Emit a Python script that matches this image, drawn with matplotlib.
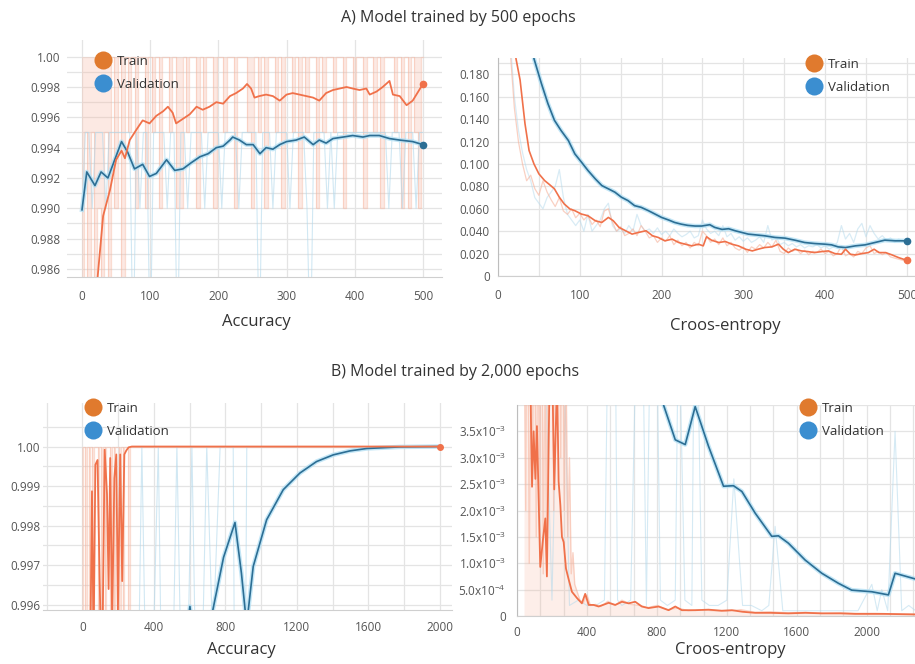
import numpy as np
import matplotlib.pyplot as plt
from matplotlib.lines import Line2D
from matplotlib.ticker import FixedLocator

plt.rcParams['font.family'] = ['Open Sans', 'DejaVu Sans']
plt.rcParams['mathtext.default'] = 'regular'

TRAIN = '#f0714a'
TRAIN_RAW = '#f6b29b'
VAL = '#2c6e94'
VAL_HALO = '#b4e0f4'
VAL_RAW = '#b3d9ec'
DOT_TRAIN = '#e07a2e'
DOT_VAL = '#3b8ed0'
GRID = '#e4e4e4'
TEXT = '#333333'
TICK = '#555555'

# ---- A) 500 epochs, accuracy ----
acc_a_train_ep = [15, 23, 31, 41, 50, 58, 63, 70, 80, 89, 99, 109, 119, 126, 133, 138, 148, 158,
                  168, 177, 187, 197, 207, 217, 226, 236, 242, 248, 253, 260, 270, 280, 290, 300,
                  309, 319, 329, 339, 348, 358, 368, 378, 388, 397, 407, 417, 422, 432, 441, 451,
                  456, 466, 476, 485, 500]
acc_a_train = [0.978, 0.9855, 0.9895, 0.9912, 0.9932, 0.9938, 0.9933, 0.9945, 0.9952, 0.9958,
               0.9956, 0.9961, 0.9964, 0.9967, 0.9963, 0.9956, 0.9959, 0.9962, 0.9967, 0.9965,
               0.9967, 0.9970, 0.9969, 0.9974, 0.9976, 0.9979, 0.9982, 0.9979, 0.9973, 0.9974,
               0.9975, 0.9974, 0.9971, 0.9975, 0.9976, 0.9975, 0.9974, 0.9973, 0.9971, 0.9976,
               0.9978, 0.9979, 0.9980, 0.9979, 0.9978, 0.9979, 0.9975, 0.9977, 0.9980, 0.9984,
               0.9975, 0.9974, 0.9968, 0.9971, 0.9982]
acc_a_val_ep = [0, 7, 19, 28, 38, 48, 58, 67, 77, 89, 99, 109, 124, 136, 148, 160, 173, 185, 197,
                207, 217, 221, 231, 241, 251, 261, 270, 280, 290, 300, 314, 326, 339, 348, 358,
                368, 383, 397, 412, 422, 436, 451, 466, 485, 500]
acc_a_val = [0.9899, 0.9924, 0.9915, 0.9924, 0.9920, 0.9932, 0.9944, 0.9937, 0.9926, 0.9929,
             0.9921, 0.9923, 0.9932, 0.9925, 0.9926, 0.9930, 0.9934, 0.9936, 0.9940, 0.9941,
             0.9945, 0.9947, 0.9945, 0.9942, 0.9942, 0.9936, 0.9940, 0.9939, 0.9942, 0.9944,
             0.9945, 0.9947, 0.9942, 0.9945, 0.9943, 0.9946, 0.9947, 0.9948, 0.9947, 0.9948,
             0.9948, 0.9946, 0.9945, 0.9944, 0.9942]
raw_a_ep = list(range(0, 501, 5))
acc_a_train_raw = [0.975, 0.995, 0.98, 0.995, 0.97, 0.99, 0.98, 0.995, 0.985, 1.0, 0.99, 1.0, 0.985,
                   1.0, 0.995, 1.0, 0.99, 1.0, 1.0, 0.99, 1.0, 0.995, 1.0,
                   0.99, 1.0, 1.0, 0.995, 1.0, 0.99, 0.99, 1.0, 0.995, 1.0,
                   1.0, 0.99, 1.0, 0.995, 1.0, 1.0, 0.99, 1.0, 1.0, 0.995,
                   1.0, 1.0, 0.99, 1.0, 1.0, 1.0, 0.995, 0.99, 1.0, 0.995,
                   1.0, 0.99, 1.0, 1.0, 0.995, 1.0, 0.99, 1.0, 1.0, 0.995,
                   1.0, 0.99, 1.0, 0.995, 1.0, 1.0, 0.99, 1.0, 0.995, 1.0,
                   1.0, 0.995, 1.0, 1.0, 0.99, 1.0, 1.0, 0.995, 1.0, 1.0,
                   0.99, 1.0, 1.0, 0.995, 1.0, 0.99, 1.0, 1.0, 1.0, 0.995,
                   1.0, 0.99, 1.0, 0.99, 1.0, 0.995, 0.99, 1.0]
acc_a_val_raw = [0.99, 0.995, 0.995, 0.99, 0.995, 0.995, 0.995, 0.99, 0.995, 0.995, 0.995, 0.995, 0.995,
                 0.995, 0.995, 0.98, 0.995, 0.99, 0.995, 0.995, 0.98, 0.995, 0.995,
                 0.995, 0.995, 0.99, 0.995, 0.995, 0.98, 0.995, 0.995, 0.99, 0.995,
                 0.995, 0.995, 0.995, 0.99, 0.995, 0.995, 0.995, 0.995, 0.99, 0.995,
                 0.995, 0.995, 0.995, 0.99, 0.995, 0.995, 0.995, 0.995, 0.995, 0.98,
                 0.995, 0.995, 0.995, 0.99, 0.995, 0.995, 0.995, 0.995, 0.99, 0.995,
                 0.995, 0.995, 0.995, 0.99, 0.98, 0.995, 0.995, 0.995, 0.995, 0.99,
                 0.995, 0.99, 0.995, 0.995, 0.995, 0.995, 0.995, 0.995, 0.995, 0.995,
                 0.995, 0.995, 0.995, 0.995, 0.995, 0.995, 0.995, 0.99, 0.995, 0.995,
                 0.995, 0.99, 0.995, 0.995, 0.995, 0.99, 0.995, 0.995]

# ---- A) 500 epochs, cross-entropy ----
ce_a_train_ep = [16, 22, 27, 33, 38, 44, 50, 57, 63, 69, 75, 81, 88, 94, 102, 110, 119, 127, 135,
                 141, 148, 156, 164, 172, 181, 189, 196, 204, 213, 221, 229, 237, 245, 251, 255,
                 261, 270, 278, 286, 294, 303, 311, 318, 326, 335, 343, 349, 355, 363, 371, 379,
                 387, 396, 404, 412, 420, 425, 431, 437, 445, 453, 460, 466, 474, 482, 490, 500]
ce_a_train = [0.26, 0.194, 0.175, 0.136, 0.112, 0.100, 0.0912, 0.0852, 0.0816, 0.0778, 0.0703,
              0.0643, 0.0598, 0.0583, 0.0553, 0.0538, 0.0493, 0.0478, 0.0523, 0.0493, 0.0434,
              0.0404, 0.0374, 0.0389, 0.0404, 0.0359, 0.0344, 0.0314, 0.0329, 0.0299, 0.0284,
              0.0269, 0.0284, 0.0269, 0.035, 0.032, 0.0299, 0.0308, 0.0284, 0.0269, 0.0239,
              0.0224, 0.0239, 0.0254, 0.026, 0.0284, 0.0239, 0.0209, 0.0239, 0.0224, 0.0218,
              0.0209, 0.0218, 0.0224, 0.020, 0.0194, 0.0239, 0.0194, 0.0188, 0.020, 0.0209,
              0.0239, 0.0209, 0.0209, 0.0188, 0.0164, 0.014]
ce_a_val_ep = [38, 44, 53, 61, 69, 77, 86, 94, 102, 110, 119, 127, 135, 143, 151, 159, 167, 175,
               184, 192, 200, 209, 216, 224, 232, 241, 249, 259, 265, 274, 282, 290, 298, 306,
               314, 326, 339, 351, 363, 375, 387, 400, 408, 416, 425, 437, 449, 461, 473, 486, 500]
ce_a_val = [0.25, 0.194, 0.172, 0.154, 0.139, 0.130, 0.121, 0.109, 0.1017, 0.0942, 0.0867, 0.0807,
            0.0778, 0.0748, 0.0703, 0.0673, 0.0628, 0.0613, 0.0583, 0.0553, 0.0523, 0.0499,
            0.0478, 0.0463, 0.0452, 0.0446, 0.0446, 0.0458, 0.0434, 0.0416, 0.0422, 0.0404,
            0.0389, 0.0374, 0.0368, 0.0359, 0.0344, 0.0338, 0.032, 0.0299, 0.029, 0.0284,
            0.0278, 0.026, 0.0254, 0.0269, 0.0278, 0.0299, 0.032, 0.0314, 0.0314]
ce_a_train_raw = [0.60, 0.45, 0.32, 0.20, 0.15, 0.12, 0.10, 0.085, 0.09, 0.078,
                  0.072, 0.085, 0.075, 0.068, 0.062, 0.07, 0.058, 0.055, 0.06, 0.052,
                  0.056, 0.05, 0.054, 0.046, 0.05, 0.044, 0.058, 0.06, 0.048, 0.04,
                  0.044, 0.036, 0.038, 0.042, 0.036, 0.045, 0.04, 0.034, 0.036, 0.03,
                  0.034, 0.031, 0.036, 0.028, 0.032, 0.027, 0.03, 0.025, 0.03, 0.027,
                  0.04, 0.036, 0.03, 0.033, 0.028, 0.034, 0.027, 0.03, 0.025, 0.023,
                  0.026, 0.021, 0.026, 0.024, 0.028, 0.025, 0.03, 0.026, 0.032, 0.022,
                  0.02, 0.025, 0.022, 0.024, 0.02, 0.023, 0.019, 0.022, 0.021, 0.024,
                  0.02, 0.022, 0.018, 0.02, 0.027, 0.018, 0.02, 0.017, 0.022, 0.02,
                  0.025, 0.027, 0.02, 0.022, 0.019, 0.021, 0.017, 0.016, 0.015, 0.014, 0.013]
ce_a_val_raw = [0.50, 0.40, 0.30, 0.21, 0.16, 0.13, 0.11, 0.095, 0.085, 0.07,
                0.065, 0.06, 0.07, 0.075, 0.08, 0.095, 0.07, 0.055, 0.05, 0.045,
                0.05, 0.04, 0.055, 0.04, 0.045, 0.05, 0.06, 0.065, 0.045, 0.04,
                0.042, 0.038, 0.045, 0.04, 0.055, 0.045, 0.04, 0.042, 0.038, 0.043,
                0.037, 0.04, 0.036, 0.042, 0.038, 0.035, 0.037, 0.04, 0.034, 0.036,
                0.05, 0.042, 0.038, 0.04, 0.036, 0.045, 0.035, 0.038, 0.032, 0.035,
                0.031, 0.034, 0.03, 0.032, 0.035, 0.03, 0.045, 0.032, 0.035, 0.028,
                0.03, 0.027, 0.029, 0.026, 0.028, 0.025, 0.027, 0.026, 0.028, 0.025,
                0.027, 0.024, 0.026, 0.03, 0.045, 0.033, 0.038, 0.03, 0.042, 0.047,
                0.035, 0.045, 0.038, 0.033, 0.036, 0.032, 0.034, 0.03, 0.033, 0.031, 0.032]

# ---- B) 2,000 epochs, accuracy ----
acc_b_train_ep = [0, 30, 45, 54, 63, 73, 85, 97, 110, 125, 138, 147, 156, 167, 179, 190, 199,
                  212, 223, 235, 246, 259, 277, 2000]
acc_b_train = [0.99, 0.993, 0.995, 0.99887, 0.9950, 0.99954, 0.99966, 0.9966, 0.9940, 0.99992,
               0.9988, 0.9964, 0.99971, 0.9955, 0.9992, 0.9998, 0.9958, 0.9998, 0.9966, 0.9998,
               0.9999, 0.99998, 1.0, 1.0]
acc_b_train_raw_ep = [0, 10, 20, 30, 40, 50, 60, 70, 80, 90, 100, 110, 120, 130, 140, 150, 160,
                      170, 180, 190, 200, 210, 220, 230, 240, 250, 260, 270, 280, 290, 2000]
acc_b_train_raw = [0.98, 1.0, 0.99, 1.0, 0.985, 1.0, 0.99, 1.0, 1.0, 0.99, 1.0, 0.995, 1.0, 0.99,
                   1.0, 1.0, 0.985, 1.0, 0.99, 1.0, 1.0, 0.99, 1.0, 0.995, 1.0, 1.0, 0.99, 1.0,
                   1.0, 1.0, 1.0]
acc_b_val_ep = [0, 200, 400, 560, 602, 640, 727, 790, 854, 890, 919, 928, 956, 1031, 1124, 1217,
                1310, 1404, 1497, 1590, 1683, 1776, 2000]
acc_b_val = [0.985, 0.990, 0.992, 0.9945, 0.99596, 0.9945, 0.9958, 0.9972, 0.99808, 0.9968,
             0.9955, 0.99585, 0.99697, 0.99815, 0.99891, 0.99933, 0.99962, 0.99979, 0.99989,
             0.99995, 0.99997, 0.99999, 1.0]
acc_b_val_raw_ep = [0, 100, 200, 300, 333, 370, 425, 470, 529, 570, 613, 650, 696, 730, 771, 800,
                    844, 880, 920, 1000, 2000]
acc_b_val_raw = [0.98, 0.985, 0.99, 0.99, 1.0, 0.99, 1.0, 0.985, 1.0, 0.99, 1.0, 0.99, 1.0, 0.995,
                 1.0, 1.0, 1.0, 0.97, 1.0, 1.0, 1.0]

# ---- B) 2,000 epochs, cross-entropy (x1e-3) ----
ce_b_train_ep = [40, 60, 76, 86, 95, 105, 114, 133, 150, 162, 171, 186, 200, 213, 229, 238, 248,
                 257, 267, 280, 295, 314, 343, 371, 390, 410, 438, 467, 500, 524, 562, 600, 638,
                 676, 714, 752, 810, 867, 905, 943, 1019, 1095, 1171, 1229, 1290, 1362, 1450,
                 1552, 1650, 1743, 1850, 1933, 2100, 2280]
ce_b_train = [8.0, 6.0, 4.5, 2.45, 3.5, 2.6, 3.6, 0.93, 1.5, 1.85, 0.75, 4.5, 5.0, 2.4, 4.5, 2.55,
              2.1, 1.5, 1.4, 0.9, 0.7, 0.46, 0.34, 0.24, 0.42, 0.21, 0.21, 0.18, 0.22, 0.25,
              0.21, 0.27, 0.24, 0.27, 0.18, 0.15, 0.18, 0.11, 0.18, 0.11, 0.11, 0.12, 0.1, 0.11,
              0.08, 0.06, 0.06, 0.05, 0.06, 0.05, 0.05, 0.04, 0.04, 0.03]
ce_b_train_raw_ep = [40, 50, 60, 70, 80, 90, 100, 110, 120, 130, 140, 150, 160, 170, 180, 190,
                     200, 210, 220, 230, 240, 250, 260, 270, 280, 290, 300, 310, 320, 330, 340,
                     360, 380, 400, 420, 450, 480, 520, 560, 600, 650, 700, 750, 800, 860, 920,
                     980, 1050, 1120, 1200, 1280, 1360, 1450, 1550, 1650, 1750, 1850, 1950, 2050,
                     2150, 2280]
ce_b_train_raw = [6, 2, 8, 1, 5, 3, 7, 1.5, 6, 2, 9, 0.8, 5, 1, 10, 4, 8, 2, 12, 6, 9, 3, 7, 2,
                  5, 1.5, 3, 0.8, 1.2, 0.6, 0.5, 0.3, 0.25, 0.4, 0.2, 0.22, 0.18, 0.28, 0.2,
                  0.3, 0.22, 0.2, 0.16, 0.2, 0.12, 0.15, 0.1, 0.12, 0.1, 0.09, 0.12, 0.07, 0.08,
                  0.06, 0.07, 0.05, 0.06, 0.05, 0.05, 0.04, 0.03]
ce_b_val_ep = [780, 838, 905, 962, 1019, 1095, 1181, 1238, 1286, 1362, 1457, 1495, 1552, 1648,
               1743, 1838, 1914, 2029, 2124, 2162, 2280]
ce_b_val = [5.0, 4.0, 3.34, 3.25, 3.97, 3.22, 2.46, 2.47, 2.36, 1.95, 1.51, 1.52, 1.38, 1.06,
            0.81, 0.62, 0.49, 0.46, 0.40, 0.81, 0.70]
ce_b_val_raw_ep = [0, 80, 120, 160, 200, 250, 300, 350, 400, 450, 500, 545, 575, 600, 650, 705,
                   740, 781, 820, 860, 905, 924, 960, 1000, 1019, 1057, 1100, 1150, 1200, 1240,
                   1290, 1340, 1400, 1440, 1476, 1520, 1580, 1650, 1750, 1850, 1950, 2029, 2060,
                   2086, 2120, 2162, 2200, 2240, 2280]
ce_b_val_raw = [20, 15, 10, 5, 0.3, 8, 0.2, 0.3, 0.2, 0.2, 0.3, 12, 0.3, 0.2, 0.3, 9, 0.2, 10,
                0.3, 0.2, 0.3, 6, 0.3, 0.2, 8, 0.3, 0.2, 0.2, 0.3, 2.6, 0.2, 0.2, 0.1, 0.2, 1.7,
                0.1, 0.1, 0.1, 0.1, 0.1, 0.1, 0.6, 0.1, 0.5, 0.1, 3.5, 0.1, 0.2, 0.1]

acc_a_yticks = [0.986, 0.988, 0.990, 0.992, 0.994, 0.996, 0.998, 1.00]
acc_a_ylabels = ['0.986', '0.988', '0.990', '0.992', '0.994', '0.996', '0.998', '1.00']
ce_a_yticks = [0, 0.02, 0.04, 0.06, 0.08, 0.10, 0.12, 0.14, 0.16, 0.18]
ce_a_ylabels = ['0', '0.020', '0.040', '0.060', '0.080', '0.100', '0.120', '0.140', '0.160', '0.180']
acc_b_yticks = [0.996, 0.997, 0.998, 0.999, 1.00]
acc_b_ylabels = ['0.996', '0.997', '0.998', '0.999', '1.00']
ce_b_yticks = [0, 0.0005, 0.001, 0.0015, 0.002, 0.0025, 0.003, 0.0035]
ce_b_ylabels = ['0', '5.0x10$^{-4}$', '1.0x10$^{-3}$', '1.5x10$^{-3}$', '2.0x10$^{-3}$',
                '2.5x10$^{-3}$', '3.0x10$^{-3}$', '3.5x10$^{-3}$']


W, H = 915, 664


def make_axes(fig, left, top, right, bottom):
    return fig.add_axes([left / W, 1 - bottom / H, (right - left) / W, (bottom - top) / H])


def style_axes(ax, xlim, ylim, xticks, yticks, ylabels, xgrid, ygrid, left_spine, ypad, xpad):
    ax.set_xlim(xlim)
    ax.set_ylim(ylim)
    ax.set_xticks(xticks)
    ax.set_xticklabels([str(t) for t in xticks])
    ax.set_yticks(yticks)
    ax.set_yticklabels(ylabels)
    ax.xaxis.set_minor_locator(FixedLocator(xgrid))
    ax.yaxis.set_minor_locator(FixedLocator(ygrid))
    ax.grid(True, which='both', color=GRID, lw=0.9)
    ax.set_axisbelow(True)
    ax.tick_params(which='both', length=0, labelsize=8.5, colors=TICK)
    ax.tick_params(axis='y', pad=ypad)
    ax.tick_params(axis='x', pad=xpad)
    for s in ['top', 'right']:
        ax.spines[s].set_visible(False)
    ax.spines['bottom'].set_color('#cfcfcf')
    ax.spines['left'].set_visible(left_spine)
    ax.spines['left'].set_color('#bdbdbd')


def draw_val(ax, x, y):
    ax.plot(x, y, color=VAL_HALO, lw=3.2, alpha=0.8, zorder=3, solid_joinstyle='round')
    ax.plot(x, y, color=VAL, lw=1.2, zorder=4)


def draw_raw_band(ax, x, y, top):
    # raw per-epoch values flip so fast that they read as a shaded band
    ax.fill_between(x, y, top, step='mid', color=TRAIN_RAW, alpha=0.28, lw=0, zorder=1)
    ax.plot(x, y, color=TRAIN_RAW, lw=0.9, alpha=0.45, zorder=1, drawstyle='steps-mid')


def add_legend(fig, left, top):
    handles = [Line2D([], [], ls='none', marker='o', ms=13, color=DOT_TRAIN, mec='none'),
               Line2D([], [], ls='none', marker='o', ms=13, color=DOT_VAL, mec='none')]
    fig.legend(handles, ['Train', 'Validation'], loc='upper left',
               bbox_to_anchor=(left / W, 1 - top / H), bbox_transform=fig.transFigure,
               frameon=False, fontsize=9.5, labelspacing=0.75, handlelength=1.3,
               handletextpad=0.45, borderpad=0, borderaxespad=0, labelcolor=TEXT)


fig = plt.figure(figsize=(W / 100, H / 100), dpi=100)

# A accuracy
ax = make_axes(fig, 67, 40, 442, 277)
style_axes(ax, (-22, 528), (0.98547, 1.0011), [0, 100, 200, 300, 400, 500], acc_a_yticks,
           acc_a_ylabels, [0, 100, 200, 300, 400, 500],
           [0.986, 0.987, 0.988, 0.989, 0.990, 0.991, 0.992, 0.993, 0.994, 0.995, 0.996, 0.997,
            0.998, 0.999, 1.00], False, 5, 9)
draw_raw_band(ax, raw_a_ep, acc_a_train_raw, 1.0)
ax.plot(raw_a_ep, acc_a_val_raw, color=VAL_RAW, lw=0.8, alpha=0.6, zorder=2)
ax.plot(acc_a_train_ep, acc_a_train, color=TRAIN, lw=1.3, zorder=5)
draw_val(ax, acc_a_val_ep, acc_a_val)
ax.plot(acc_a_train_ep[-1], acc_a_train[-1], 'o', color=TRAIN, ms=4.5, zorder=6)
ax.plot(acc_a_val_ep[-1], acc_a_val[-1], 'o', color=VAL, ms=4.5, zorder=6)
add_legend(fig, 94, 55)

# A cross-entropy
ax = make_axes(fig, 498, 58, 915, 276)
style_axes(ax, (0, 510), (0, 0.1946), [0, 100, 200, 300, 400, 500], ce_a_yticks, ce_a_ylabels,
           [50, 100, 150, 200, 250, 300, 350, 400, 450, 500], ce_a_yticks + [0.19], True, 6, 9)
ax.plot(raw_a_ep, ce_a_train_raw, color=TRAIN_RAW, lw=0.9, alpha=0.6, zorder=2)
ax.plot(raw_a_ep, ce_a_val_raw, color=VAL_RAW, lw=0.9, alpha=0.5, zorder=1)
ax.plot(ce_a_train_ep, ce_a_train, color=TRAIN, lw=1.2, zorder=5)
draw_val(ax, ce_a_val_ep, ce_a_val)
ax.plot(ce_a_train_ep[-1], ce_a_train[-1], 'o', color=TRAIN, ms=4.5, zorder=6, clip_on=False)
ax.plot(ce_a_val_ep[-1], ce_a_val[-1], 'o', color=VAL, ms=4.5, zorder=6, clip_on=False)
add_legend(fig, 805, 58)

# B accuracy
ax = make_axes(fig, 43, 403, 452, 610)
style_axes(ax, (-220, 2068), (0.99587, 1.0011), [0, 400, 800, 1200, 1600, 2000], acc_b_yticks,
           acc_b_ylabels, list(range(-200, 2001, 200)),
           [0.996, 0.9965, 0.997, 0.9975, 0.998, 0.9985, 0.999, 0.9995, 1.0, 1.0005], False, 2, 8)
draw_raw_band(ax, acc_b_train_raw_ep, acc_b_train_raw, 1.0)
ax.plot(acc_b_val_raw_ep, acc_b_val_raw, color=VAL_RAW, lw=0.8, alpha=0.6, zorder=2)
ax.plot(acc_b_train_ep, acc_b_train, color=TRAIN, lw=1.3, zorder=5)
draw_val(ax, acc_b_val_ep, acc_b_val)
ax.plot(acc_b_train_ep[-1], acc_b_train[-1], 'o', color=TRAIN, ms=4, zorder=6)
add_legend(fig, 84, 402)

# B cross-entropy
ax = make_axes(fig, 517, 405, 915, 616)
style_axes(ax, (0, 2276), (0, 0.004), [0, 400, 800, 1200, 1600, 2000], ce_b_yticks, ce_b_ylabels,
           [400 * k / 3 for k in range(1, 18)], ce_b_yticks + [0.004], True, 8, 7)
ce_b_raw = np.array(ce_b_train_raw) * 1e-3
ax.fill_between(ce_b_train_raw_ep, 0, ce_b_raw, color=TRAIN_RAW, alpha=0.22, lw=0, zorder=1)
ax.plot(ce_b_train_raw_ep, ce_b_raw, color=TRAIN_RAW, lw=1.0, alpha=0.55, zorder=2)
ax.plot(ce_b_val_raw_ep, np.array(ce_b_val_raw) * 1e-3, color=VAL_RAW, lw=0.8, alpha=0.55, zorder=1)
ax.plot(ce_b_train_ep, np.array(ce_b_train) * 1e-3, color=TRAIN, lw=1.3, zorder=5)
draw_val(ax, ce_b_val_ep, np.array(ce_b_val) * 1e-3)
add_legend(fig, 799, 402)

fig.text(458 / W, 1 - 18 / H, 'A) Model trained by 500 epochs', ha='center', va='center',
         fontsize=11.5, color=TEXT)
fig.text(455 / W, 1 - 372 / H, 'B) Model trained by 2,000 epochs', ha='center', va='center',
         fontsize=11.5, color=TEXT)
fig.text(256 / W, 1 - 322 / H, 'Accuracy', ha='center', va='center', fontsize=12, color=TEXT)
fig.text(725 / W, 1 - 326 / H, 'Croos-entropy', ha='center', va='center', fontsize=12, color=TEXT)
fig.text(241 / W, 1 - 650 / H, 'Accuracy', ha='center', va='center', fontsize=12, color=TEXT)
fig.text(730 / W, 1 - 650 / H, 'Croos-entropy', ha='center', va='center', fontsize=12, color=TEXT)

fig.savefig('out.png', dpi=100, facecolor='white')
